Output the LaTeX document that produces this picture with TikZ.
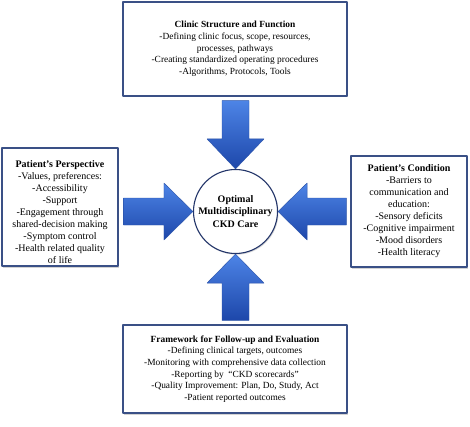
\documentclass[tikz,border=0pt]{standalone}
\usepackage{fontspec}
\setmainfont{Liberation Serif}
\usetikzlibrary{calc,shadows}
\definecolor{boxblue}{HTML}{3A5086}
\definecolor{hubblue}{HTML}{24366A}
\definecolor{arrowlight}{HTML}{4D84E6}
\definecolor{arrowdark}{HTML}{1D47AA}
\definecolor{arrowedge}{HTML}{2A52A8}

\begin{document}
\begin{tikzpicture}[x=1pt,y=1pt,line join=round,
	box/.style={draw=boxblue,fill=white,line width=1.2pt,align=center,inner sep=0pt,
		drop shadow={shadow xshift=1.2pt,shadow yshift=-1.5pt,opacity=0.35}},
	wide/.style={box,minimum width=224,font=\fontsize{9.4}{11.7}\selectfont},
	side/.style={box,minimum width=116,font=\fontsize{10}{12}\selectfont},
	hub/.style={circle,draw=hubblue,fill=white,line width=1.1pt,minimum size=84,inner sep=0pt,align=center,
		font=\bfseries\fontsize{10}{12.5}\selectfont,
		drop shadow={shadow xshift=1pt,shadow yshift=-1.2pt,opacity=0.3}},
	blockarrow/.style={top color=arrowlight,bottom color=arrowdark,draw=arrowedge,line width=0.4pt}]
		\useasboundingbox (0,0) rectangle (470,426);
		
		% boxes
		\node[wide,minimum height=94] (clinic) at (235,377) {\textbf{Clinic Structure and Function}\\
			-Defining clinic focus, scope, resources,\\
			processes, pathways\\
			-Creating standardized operating procedures\\
			-Algorithms, Protocols, Tools};
		\node[side,minimum height=118] (persp) at (60,219) {\rule{0pt}{18pt}\textbf{Patient's Perspective}\\
			-Values, preferences:\\
			-Accessibility\\
			-Support\\
			-Engagement through\\
			shared-decision making\\
			-Symptom control\\
			-Health related quality\\
			of life};
		\node[side,minimum height=111] (cond) at (409,214.5) {\textbf{Patient's Condition}\\
			-Barriers to\\
			communication and\\
			education:\\
			-Sensory deficits\\
			-Cognitive impairment\\
			-Mood disorders\\
			-Health literacy};
		\node[wide,minimum height=88] (follow) at (235,57) {\textbf{Framework for Follow-up and Evaluation}\\
			-Defining clinical targets, outcomes\\
			-Monitoring with comprehensive data collection\\
			-Reporting by~ ``CKD scorecards''\\
			-Quality Improvement: Plan, Do, Study, Act\\
			-Patient reported outcomes};
		\node[hub] (hub) at (235.5,214.5) {Optimal\\Multidisciplinary\\CKD Care};
		
		% arrows
		\shadedraw[blockarrow] ($(clinic.south -| hub)+(-13.5,-4)$) -- ($(hub.north)+(-13.5,30)$) -- ($(hub.north)+(-28.5,30)$)
		-- (hub.north) -- ($(hub.north)+(28.5,30)$) -- ($(hub.north)+(13.5,30)$) -- ($(clinic.south -| hub)+(13.5,-4)$) -- cycle;
		\shadedraw[blockarrow] ($(follow.north -| hub)+(-13.5,4)$) -- ($(hub.south)+(-13.5,-29)$) -- ($(hub.south)+(-28.5,-29)$)
		-- (hub.south) -- ($(hub.south)+(28.5,-29)$) -- ($(hub.south)+(13.5,-29)$) -- ($(follow.north -| hub)+(13.5,4)$) -- cycle;
		\shadedraw[blockarrow] ($(persp.east |- hub)+(5,13.5)$) -- ($(hub.west)+(-29,13.5)$) -- ($(hub.west)+(-29,28.5)$)
		-- (hub.west) -- ($(hub.west)+(-29,-28.5)$) -- ($(hub.west)+(-29,-13.5)$) -- ($(persp.east |- hub)+(5,-13.5)$) -- cycle;
		\shadedraw[blockarrow] ($(cond.west |- hub)+(-4,13.5)$) -- ($(hub.east)+(29,13.5)$) -- ($(hub.east)+(29,28.5)$)
		-- (hub.east) -- ($(hub.east)+(29,-28.5)$) -- ($(hub.east)+(29,-13.5)$) -- ($(cond.west |- hub)+(-4,-13.5)$) -- cycle;
		\end{tikzpicture}
\end{document}
